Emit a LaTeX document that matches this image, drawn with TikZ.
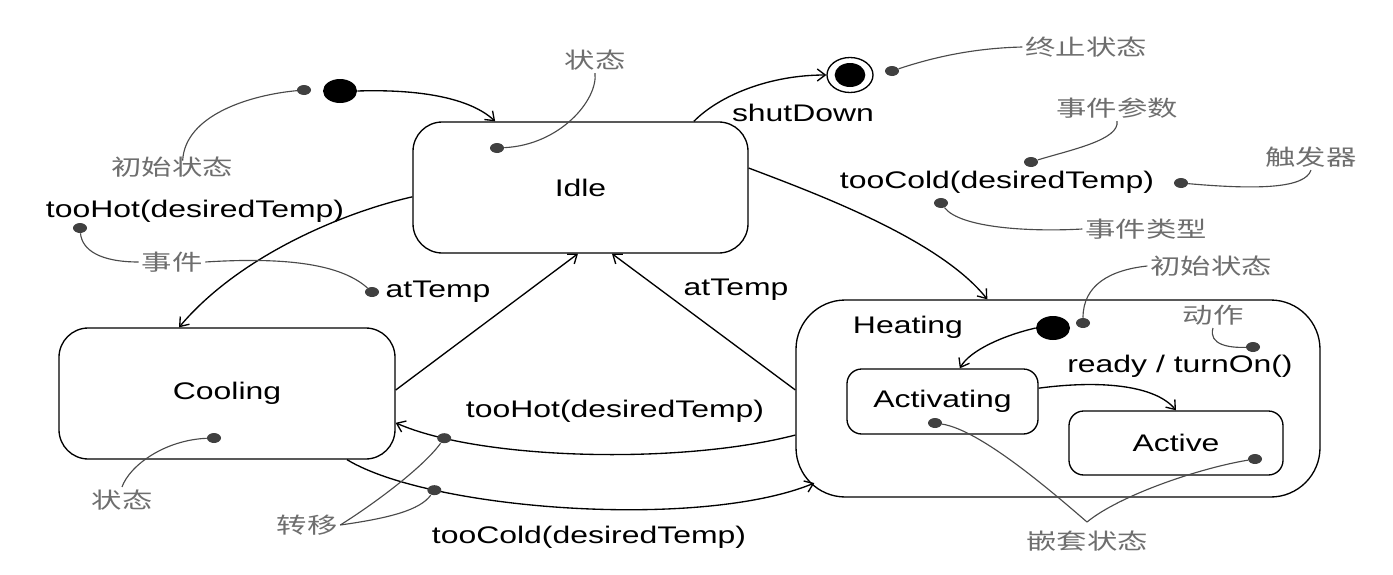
\documentclass[tikz,border=0pt]{standalone}
\usepackage{fontspec}
\setmainfont{Liberation Sans}[FakeStretch=1.33]
\newfontfamily\cjk{Noto Sans CJK SC}[FakeStretch=1.38]
\usetikzlibrary{arrows.meta,shapes.geometric}
\definecolor{annot}{HTML}{6E6E6E}
\definecolor{dotc}{HTML}{404040}
\definecolor{leadc}{HTML}{4A4A4A}
\begin{document}
\begin{tikzpicture}[x=0.75pt,y=-0.75pt,
  every node/.style={font=\fontsize{18pt}{20pt}\selectfont},
  state/.style={draw, line width=1pt, rounded corners=22pt, inner sep=0pt},
  lbl/.style={inner sep=1pt},
  note/.style={text=annot, font=\fontsize{16.5pt}{18pt}\cjk, inner sep=2pt},
  adot/.style={ellipse, fill=dotc, minimum width=10.5pt, minimum height=7.5pt, inner sep=0pt},
  idot/.style={ellipse, fill=black, minimum width=25.5pt, minimum height=18pt, inner sep=0pt},
  trans/.style={line width=1pt, -{Straight Barb[length=6pt,width=9pt,line width=1pt]}},
  leader/.style={leadc, line width=0.85pt},
]
\useasboundingbox (0,0) rectangle (1393,575);
% states
\node[state, minimum width=251.25pt, minimum height=98.25pt] (idle) at (580.5,187.5) {Idle};
\node[state, minimum width=252pt, minimum height=98.25pt] (cool) at (227,393.5) {Cooling};
\node[state, rounded corners=37pt, minimum width=393pt, minimum height=147.75pt] (heat) at (1058,398.5) {};
\node[lbl] (heatl) at (908,327) {Heating};
\node[state, rounded corners=11pt, minimum width=143.25pt, minimum height=48.75pt] (actg) at (942.5,401.5) {Activating};
\node[state, rounded corners=11pt, minimum width=160.5pt, minimum height=48pt] (actv) at (1176,443) {Active};
% pseudo states
\node[idot] (init) at (340,91) {};
\node[draw, ellipse, line width=1pt, fill=white, minimum width=34.5pt, minimum height=26.25pt, inner sep=0pt] (fin) at (850,75) {};
\node[ellipse, fill=black, minimum width=23pt, minimum height=18pt, inner sep=0pt] (finc) at (850,75) {};
\node[idot] (init2) at (1053,328) {};
% transition labels
\node[lbl] (tHot1) at (195,211) {tooHot(desiredTemp)};
\node[lbl] (atT1) at (438,292) {atTemp};
\node[lbl] (atT2) at (736,290) {atTemp};
\node[lbl] (sd) at (803,113) {shutDown};
\node[lbl] (tCold1) at (997,182) {tooCold(desiredTemp)};
\node[lbl] (tHot2) at (615,411) {tooHot(desiredTemp)};
\node[lbl] (tCold2) at (589,537) {tooCold(desiredTemp)};
\node[lbl] (rt) at (1180,366) {ready / turnOn()};
% notes
\node[note] (nState1) at (595,60) {状态};
\node[note] (nInit1) at (172,167) {初始状态};
\node[note] (nEv) at (172,262) {事件};
\node[note] (nState2) at (122,500) {状态};
\node[note] (nTr) at (307,525) {转移};
\node[note] (nFin) at (1086,47) {终止状态};
\node[note] (nPar) at (1117,108) {事件参数};
\node[note] (nTrig) at (1311,157) {触发器};
\node[note] (nType) at (1146,229) {事件类型};
\node[note] (nInit2) at (1211,266) {初始状态};
\node[note] (nAct) at (1213,315) {动作};
\node[note] (nNest) at (1087,541) {嵌套状态};
\coordinate (nestApex) at (1087,522);
% transitions
\draw[trans] (init.east) .. controls (420,89) and (470,98) .. ([xshift=-64pt]idle.north);
\draw[trans] ([yshift=-7pt]idle.west) .. controls (345,212) and (240,255) .. ([xshift=-36pt]cool.north);
\draw[trans] ([yshift=2.6pt]cool.east) -- ([xshift=-1.9pt]idle.south);
\draw[trans] ([yshift=6.4pt]heat.west) -- ([xshift=23.6pt]idle.south);
\draw[trans] ([yshift=14.6pt]idle.east) .. controls (820,195) and (940,240) .. ([xshift=-53pt]heat.north);
\draw[trans] ([xshift=85pt]idle.north) .. controls (720,95) and (770,75) .. (fin.west);
\draw[trans] (init2.west) .. controls (1005,335) and (970,350) .. ([xshift=13pt]actg.north);
\draw[trans] ([yshift=10pt]actg.east) .. controls (1100,380) and (1155,385) .. (actv.north);
\draw[trans] ([yshift=-27.4pt]heat.west) .. controls (680,465) and (480,460) .. ([yshift=-22pt]cool.east) node[adot, pos=0.84] (dh) {};
\draw[trans] ([xshift=90pt]cool.south) .. controls (430,510) and (700,530) .. ([xshift=14.25pt,yshift=-63.4pt]heat.west) node[adot, pos=0.24] (dc) {};
% annotation dots
\node[adot] (d1) at (304,90) {};
\node[adot] (d2) at (497,148) {};
\node[adot] (d3) at (80,228) {};
\node[adot] (d4) at (372,292) {};
\node[adot] (d5) at (214,438) {};
\node[adot] (d6) at (892,71) {};
\node[adot] (d7) at (1031,162) {};
\node[adot] (d8) at (1181,183) {};
\node[adot] (d9) at (941,203) {};
\node[adot] (d10) at (1083,323) {};
\node[adot] (d11) at (1253,347) {};
\node[adot] (d12) at (935,423) {};
\node[adot] (d13) at (1255,459) {};
% leaders
\draw[leader] (nState1.south) .. controls (598,100) and (560,145) .. (d2);
\draw[leader] (d1) .. controls (250,95) and (185,115) .. ([xshift=8pt,yshift=-5pt]nInit1.north);
\draw[leader] (d3) .. controls (82,250) and (100,262) .. (nEv.west);
\draw[leader] (nEv.east) .. controls (300,256) and (345,268) .. (d4);
\draw[leader] (nState2.north) .. controls (130,465) and (165,440) .. (d5);
\draw[leader] (nTr.east) .. controls (380,500) and (425,465) .. (dh);
\draw[leader] (nTr.east) .. controls (390,518) and (420,510) .. (dc);
\draw[leader] (d6) .. controls (940,55) and (980,48) .. (nFin.west);
\draw[leader] (nPar.south) .. controls (1120,140) and (1070,150) .. (d7);
\draw[leader] (d8) .. controls (1260,190) and (1305,188) .. (nTrig.south);
\draw[leader] (d9) .. controls (960,228) and (1030,232) .. (nType.west);
\draw[leader] (nInit2.west) .. controls (1110,270) and (1083,285) .. (d10);
\draw[leader] (nAct.south) .. controls (1208,345) and (1230,348) .. (d11);
\draw[leader] (d12) .. controls (980,430) and (1050,490) .. (nestApex);
\draw[leader] (nestApex) .. controls (1120,495) and (1200,468) .. (d13);
\end{tikzpicture}
\end{document}
